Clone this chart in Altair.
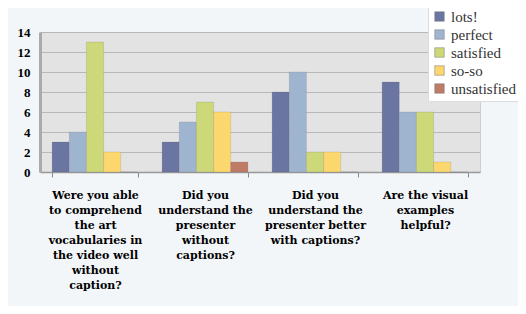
import altair as alt
import pandas as pd

questions = [
    "Were you able|to comprehend|the art|vocabularies in|the video well|without|caption?",
    "Did you|understand the|presenter|without|captions?",
    "Did you|understand the|presenter better|with captions?",
    "Are the visual|examples|helpful?",
]
series = ["lots!", "perfect", "satisfied", "so-so", "unsatisfied"]
colors = ["#6b75a1", "#9fb5cf", "#cdd878", "#fcd76e", "#bf7b66"]
lots = [3, 3, 8, 9]
perfect = [4, 5, 10, 6]
satisfied = [13, 7, 2, 6]
soso = [2, 6, 2, 1]
unsatisfied = [0, 1, 0, 0]
y_ticks = [0, 2, 4, 6, 8, 10, 12, 14]

vals = [lots, perfect, satisfied, soso, unsatisfied]
rows = []
for s, v in zip(series, vals):
    for q, n in zip(questions, v):
        rows.append({"question": q, "series": s, "value": n})
df = pd.DataFrame(rows)

SERIF = "DejaVu Serif"
SERIF2 = "serif"

bars = alt.Chart(df).mark_bar(stroke="#555", strokeWidth=0.3, strokeOpacity=0.5).encode(
    x=alt.X("question:N", sort=questions, title=None,
            scale=alt.Scale(paddingInner=0.22, paddingOuter=0.11),
            axis=alt.Axis(labelAngle=0, labelExpr="split(datum.label, '|')",
                          labelFont=SERIF, labelFontWeight="bold",
                          labelFontSize=11, labelColor="#000", labelLineHeight=15,
                          labelPadding=12, tickBand="extent", tickColor="#888",
                          tickSize=5, domainColor="#999", domainWidth=1.5,
                          labelLimit=200)),
    xOffset=alt.XOffset("series:N", sort=series),
    y=alt.Y("value:Q", title=None,
            scale=alt.Scale(domain=[0, 14]),
            axis=alt.Axis(values=y_ticks, labelFont=SERIF2,
                          labelFontWeight="bold", labelFontSize=13, labelColor="#000",
                          ticks=False, labelPadding=10, domainColor="#aaa",
                          domainWidth=3, gridColor="#b8b8b8", gridWidth=1)),
    color=alt.Color("series:N", sort=series,
                    scale=alt.Scale(domain=series, range=colors),
                    legend=alt.Legend(title=None, orient="none", legendX=388, legendY=-27,
                                      symbolType="square", symbolSize=90,
                                      symbolStrokeColor="#777", symbolStrokeWidth=0.5,
                                      labelFont="Liberation Serif", labelFontSize=15,
                                      labelColor="#333", rowPadding=2,
                                      fillColor="#ffffff", strokeColor="#ddd",
                                      padding=4)),
)

chart = bars.properties(
    width=440, height=140,
    autosize=alt.AutoSizeParams(type="none"),
    padding={"left": 32, "top": 24, "right": 38, "bottom": 134},
    background="#f3f6f8",
).configure_view(fill="#e3e3e3", stroke="#cfcfcf")

chart.save("out.html", embed_options={"renderer": "svg", "actions": False})
